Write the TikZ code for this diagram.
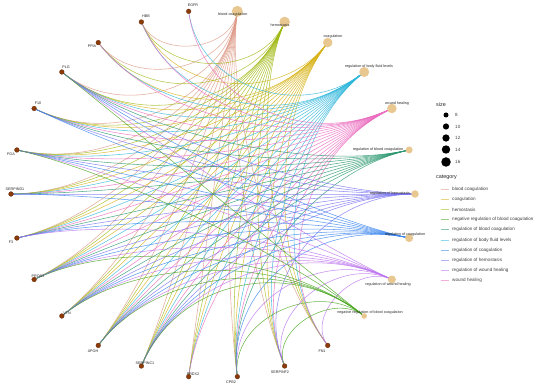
\documentclass[tikz,border=0pt]{standalone}
\usepackage{fontspec}
\setmainfont{Liberation Sans}
\usetikzlibrary{calc}
\pgfdeclarelayer{bg}
\pgfsetlayers{bg,main}
\definecolor{cBC}{HTML}{DE9A86}
\definecolor{cCO}{HTML}{D8B418}
\definecolor{cHE}{HTML}{A4BA14}
\definecolor{cNR}{HTML}{4AA620}
\definecolor{cRBC}{HTML}{2A9870}
\definecolor{cBFL}{HTML}{30B8DC}
\definecolor{cRC}{HTML}{3A86F0}
\definecolor{cRH}{HTML}{7A74F2}
\definecolor{cRWH}{HTML}{BC74F0}
\definecolor{cWH}{HTML}{EC6CC0}
\definecolor{catfill}{HTML}{E8C890}
\definecolor{genefill}{HTML}{8B3A0A}
\newdimen\lAx \newdimen\lAy \newdimen\lBx \newdimen\lBy \newdimen\lOx \newdimen\lOy
\newcommand\lnk[3]{%
  \pgfextractx{\lAx}{\pgfpointanchor{#1}{center}}%
  \pgfextracty{\lAy}{\pgfpointanchor{#1}{center}}%
  \pgfextractx{\lBx}{\pgfpointanchor{#2}{center}}%
  \pgfextracty{\lBy}{\pgfpointanchor{#2}{center}}%
  \pgfextractx{\lOx}{\pgfpointanchor{O}{center}}%
  \pgfextracty{\lOy}{\pgfpointanchor{O}{center}}%
  \pgfmathsetmacro\lD{veclen(\lBx-\lAx,\lBy-\lAy)}%
  \pgfmathsetmacro\lfa{min(0.5,0.42*\lD/veclen(\lOx-\lAx,\lOy-\lAy))}%
  \pgfmathsetmacro\lfb{min(0.5,0.42*\lD/veclen(\lOx-\lBx,\lOy-\lBy))}%
  \draw[edgeline,#3] (#1.center) .. controls ($(#1.center)!\lfa!(O)$) and ($(#2.center)!\lfb!(O)$) .. (#2.center);}
\begin{document}
\begin{tikzpicture}[x=1pt,y=-1pt,
  gene/.style={circle,fill=genefill,draw=genefill!70!black,line width=0.2pt,inner sep=0pt,minimum size=4.8pt},
  cat/.style={circle,fill=catfill,inner sep=0pt,minimum size=#1},
  lab/.style={font=\fontsize{3.7}{4}\selectfont,text=black!85,inner sep=0pt},
  edgeline/.style={line width=0.55pt,draw opacity=0.8},
  legtext/.style={font=\fontsize{4.6}{5}\selectfont,text=black!75,inner sep=0pt,anchor=west},
  legtitle/.style={font=\fontsize{5.4}{6}\selectfont,text=black!85,inner sep=0pt,anchor=west},
  legdot/.style={circle,fill=black,inner sep=0pt,minimum size=#1},
  legline/.style={line width=0.7pt,draw opacity=0.55}]
\useasboundingbox (0,0) rectangle (550,387);
\begin{pgfonlayer}{bg}
\fill[white] (0,0) rectangle (550,387);
\end{pgfonlayer}
\coordinate (O) at (213,194);
\foreach \n/\k in {RH/0,RBC/1,WH/2,BFL/3,CO/4,HE/5,BC/6,EGFR/7,HBB/8,PPIA/9,PLG/10,F10/11,FGA/12,SERPIND1/13,F3/14,PROS1/15,VTN/16,APOH/17,SERPINC1/18,PRDX2/19,CPB2/20,SERPINF2/21,FN1/22,NR/23,RWH/24,RC/25}
  \coordinate (p\n) at ({213+202*cos(\k*360/26)},{194-184*sin(\k*360/26)});
% category nodes
\node[cat=7.5pt] (RH) at (pRH) {};
\node[cat=7pt] (RBC) at (pRBC) {};
\node[cat=9.5pt] (WH) at (pWH) {};
\node[cat=10pt] (BFL) at (pBFL) {};
\node[cat=9.5pt] (CO) at (pCO) {};
\node[cat=10.5pt] (HE) at (pHE) {};
\node[cat=11pt] (BC) at (pBC) {};
\node[cat=5.5pt] (NR) at (pNR) {};
\node[cat=8pt] (RWH) at (pRWH) {};
\node[cat=8pt] (RC) at (pRC) {};
% gene nodes
\foreach \g in {EGFR,HBB,PPIA,PLG,F10,FGA,SERPIND1,F3,PROS1,VTN,APOH,SERPINC1,PRDX2,CPB2,SERPINF2,FN1}
  \node[gene] (\g) at (p\g) {};
% edges
\begin{pgfonlayer}{bg}
\foreach \g in {HBB,PPIA,PLG,F10,FGA,SERPIND1,F3,PROS1,VTN,APOH,SERPINC1,PRDX2,CPB2,SERPINF2,FN1} {\lnk{\g}{BC}{cBC}}
\foreach \g in {HBB,PPIA,PLG,F10,FGA,SERPIND1,F3,PROS1,VTN,APOH,SERPINC1,PRDX2,CPB2,SERPINF2,FN1} {\lnk{\g}{CO}{cCO}}
\foreach \g in {HBB,PPIA,PLG,F10,FGA,SERPIND1,F3,PROS1,VTN,APOH,SERPINC1,PRDX2,CPB2,SERPINF2,FN1} {\lnk{\g}{HE}{cHE}}
\foreach \g in {EGFR,HBB,PPIA,PLG,F10,FGA,SERPIND1,F3,PROS1,VTN,APOH,SERPINC1,PRDX2,CPB2,SERPINF2,FN1} {\lnk{\g}{BFL}{cBFL}}
\foreach \g in {EGFR,HBB,PPIA,PLG,F10,FGA,SERPIND1,F3,PROS1,VTN,APOH,SERPINC1,PRDX2,CPB2,SERPINF2,FN1} {\lnk{\g}{WH}{cWH}}
\foreach \g in {PLG,F10,FGA,SERPIND1,F3,PROS1,VTN,APOH,SERPINC1,CPB2} {\lnk{\g}{RBC}{cRBC}}
\foreach \g in {PLG,F10,FGA,SERPIND1,F3,PROS1,VTN,APOH,SERPINC1,SERPINF2} {\lnk{\g}{RH}{cRH}}
\foreach \g in {PLG,F10,FGA,SERPIND1,F3,PROS1,VTN,APOH,SERPINC1,CPB2} {\lnk{\g}{RC}{cRC}}
\foreach \g in {PLG,FGA,F3,PROS1,VTN,APOH,SERPINC1,CPB2,SERPINF2,FN1} {\lnk{\g}{RWH}{cRWH}}
\foreach \g in {PLG,FGA,PROS1,VTN,APOH,SERPINC1,CPB2,SERPINF2} {\lnk{\g}{NR}{cNR}}
\end{pgfonlayer}
% category labels
\node[lab] (lBC) at (233,14.5) {blood coagulation};
\node[lab] (lHE) at (280,25) {hemostasis};
\node[lab] (lCO) at (333,37) {coagulation};
\node[lab] (lBFL) at (369,67) {regulation of body fluid levels};
\node[lab] (lWH) at (397,104) {wound healing};
\node[lab] (lRBC) at (378,150) {regulation of blood coagulation};
\node[lab] (lRH) at (390,194) {regulation of hemostasis};
\node[lab] (lRC) at (405,235) {regulation of coagulation};
\node[lab] (lRWH) at (388,285) {regulation of wound healing};
\node[lab] (lNR) at (370,313) {negative regulation of blood coagulation};
% gene labels
\node[lab] (lEGFR) at (193,5.5) {EGFR};
\node[lab] (lHBB) at (146,16) {HBB};
\node[lab] (lPPIA) at (92,46) {PPIA};
\node[lab] (lPLG) at (66,67) {PLG};
\node[lab] (lF10) at (38,103) {F10};
\node[lab] (lFGA) at (11,154) {FGA};
\node[lab] (lSERPIND1) at (15,189) {SERPIND1};
\node[lab] (lF3) at (11,242) {F3};
\node[lab] (lPROS1) at (38,276) {PROS1};
\node[lab] (lVTN) at (67,313) {VTN};
\node[lab] (lAPOH) at (93,351) {APOH};
\node[lab] (lSERPINC1) at (145,363) {SERPINC1};
\node[lab] (lPRDX2) at (193,374) {PRDX2};
\node[lab] (lCPB2) at (231,382) {CPB2};
\node[lab] (lSERPINF2) at (280,372) {SERPINF2};
\node[lab] (lFN1) at (322,351) {FN1};
% legend: size
\node[legtitle] (tsize) at (436,105) {size};
\node[legdot=5pt] (d8) at (446,115) {};
\node[legdot=6.2pt] (d10) at (446,126.5) {};
\node[legdot=7.3pt] (d12) at (446,138) {};
\node[legdot=8.4pt] (d14) at (446,149.5) {};
\node[legdot=9.5pt] (d16) at (446,162) {};
\node[legtext] (s8) at (455,115) {8};
\node[legtext] (s10) at (455,126.5) {10};
\node[legtext] (s12) at (455,138) {12};
\node[legtext] (s14) at (455,149.5) {14};
\node[legtext] (s16) at (455,162) {16};
% legend: category
\node[legtitle] (tcat) at (436,177) {category};
\foreach \c/\t [count=\i from 0] in {cBC/blood coagulation,cCO/coagulation,cHE/hemostasis,cNR/negative regulation of blood coagulation,cRBC/regulation of blood coagulation,cBFL/regulation of body fluid levels,cRC/regulation of coagulation,cRH/regulation of hemostasis,cRWH/regulation of wound healing,cWH/wound healing} {
  \draw[legline,\c] (440.5,{189+\i*10.2}) -- (448.5,{189+\i*10.2});
  \node[legtext] (leg\i) at (452,{189+\i*10.2}) {\t};
}
\end{tikzpicture}
\end{document}
